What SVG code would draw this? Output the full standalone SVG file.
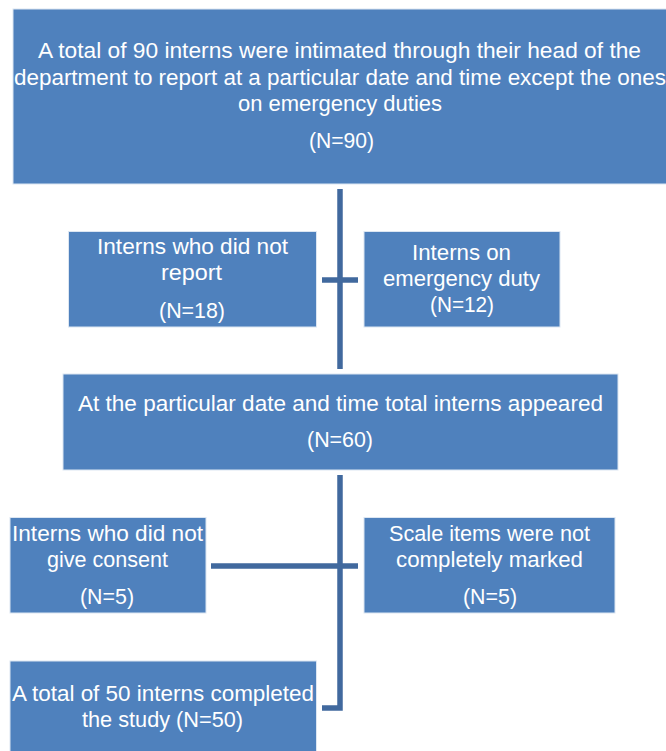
<svg xmlns="http://www.w3.org/2000/svg" width="666" height="751" viewBox="0 0 666 751">
<style>
.box{fill:#4F81BD;stroke:#DCE6F2;stroke-width:1}
.t{font-family:"Liberation Sans",Arial,sans-serif;font-size:22px;fill:#FFFFFF;text-anchor:middle}
.c{stroke:#41699E;stroke-width:5.5;fill:none}
</style>
<rect width="666" height="751" fill="#FFFFFF"/>
<g id="connectors">
<line class="c" x1="340" y1="189" x2="340" y2="369"/>
<line class="c" x1="322" y1="280" x2="358" y2="280"/>
<polyline class="c" points="340,475 340,708 322,708"/>
<line class="c" x1="211" y1="566" x2="358" y2="566"/>
</g>
<g id="n1">
<rect class="box" x="13" y="9" width="654" height="175"/>
<text class="t" x="339.5" y="58" textLength="603" lengthAdjust="spacingAndGlyphs">A total of 90 interns were intimated through their head of the</text>
<text class="t" x="340" y="85" textLength="652" lengthAdjust="spacingAndGlyphs">department to report at a particular date and time except the ones</text>
<text class="t" x="340" y="111" textLength="204" lengthAdjust="spacingAndGlyphs">on emergency duties</text>
<text class="t" x="341.5" y="148" textLength="65" lengthAdjust="spacingAndGlyphs">(N=90)</text>
</g>
<g id="n2">
<rect class="box" x="68.5" y="231.5" width="248" height="95.5"/>
<text class="t" x="192.5" y="254" textLength="191" lengthAdjust="spacingAndGlyphs">Interns who did not</text>
<text class="t" x="191.5" y="280" textLength="61" lengthAdjust="spacingAndGlyphs">report</text>
<text class="t" x="192" y="318" textLength="66" lengthAdjust="spacingAndGlyphs">(N=18)</text>
</g>
<g id="n3">
<rect class="box" x="364" y="231.5" width="196" height="95.5"/>
<text class="t" x="461.5" y="260" textLength="99" lengthAdjust="spacingAndGlyphs">Interns on</text>
<text class="t" x="461.5" y="286" textLength="157" lengthAdjust="spacingAndGlyphs">emergency duty</text>
<text class="t" x="462" y="312" textLength="64" lengthAdjust="spacingAndGlyphs">(N=12)</text>
</g>
<g id="n4">
<rect class="box" x="63" y="374" width="555" height="96"/>
<text class="t" x="340.5" y="411" textLength="525" lengthAdjust="spacingAndGlyphs">At the particular date and time total interns appeared</text>
<text class="t" x="340" y="447" textLength="66" lengthAdjust="spacingAndGlyphs">(N=60)</text>
</g>
<g id="n5">
<rect class="box" x="10" y="517.5" width="196" height="95.5"/>
<text class="t" x="107.5" y="541" textLength="191" lengthAdjust="spacingAndGlyphs">Interns who did not</text>
<text class="t" x="107.5" y="567" textLength="121" lengthAdjust="spacingAndGlyphs">give consent</text>
<text class="t" x="107" y="604" textLength="54" lengthAdjust="spacingAndGlyphs">(N=5)</text>
</g>
<g id="n6">
<rect class="box" x="364" y="517.5" width="251" height="95.5"/>
<text class="t" x="489.5" y="541" textLength="201" lengthAdjust="spacingAndGlyphs">Scale items were not</text>
<text class="t" x="489.5" y="567" textLength="187" lengthAdjust="spacingAndGlyphs">completely marked</text>
<text class="t" x="490" y="604" textLength="54" lengthAdjust="spacingAndGlyphs">(N=5)</text>
</g>
<g id="n7">
<rect class="box" x="10" y="661" width="306.5" height="92"/>
<text class="t" x="163" y="701" textLength="302" lengthAdjust="spacingAndGlyphs">A total of 50 interns completed</text>
<text class="t" x="162.5" y="727" textLength="161" lengthAdjust="spacingAndGlyphs">the study (N=50)</text>
</g>
</svg>
